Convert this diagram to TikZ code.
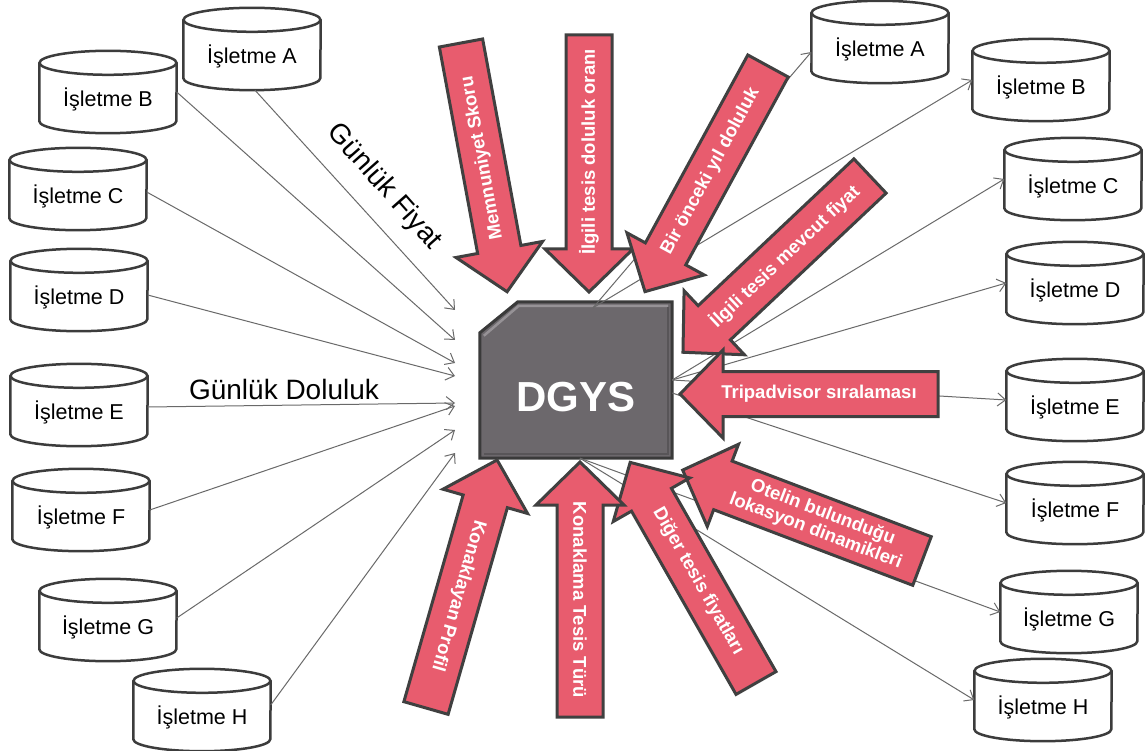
\documentclass[tikz,border=0pt]{standalone}
\usepackage{fontspec}
\setmainfont{Liberation Sans}
\usetikzlibrary{arrows.meta,calc}
\definecolor{arrowred}{RGB}{232,92,110}
\definecolor{edgegray}{RGB}{64,64,64}
\definecolor{boxgray}{RGB}{108,104,108}
\definecolor{boxedge}{RGB}{58,58,58}
\definecolor{bevellight}{RGB}{150,146,150}
\definecolor{beveldark}{RGB}{88,85,88}
\definecolor{linegray}{RGB}{105,105,105}
\definecolor{cyledge}{RGB}{60,60,60}
\tikzset{
  cyl/.style={rectangle, minimum width=137pt, minimum height=82pt, inner sep=0pt},
  cylline/.style={draw=cyledge, line width=2.5pt, fill=white},
  cyltext/.style={font=\fontsize{21.5}{24}\selectfont, inner sep=0pt},
  conn/.style={draw=linegray, line width=1pt, -{Straight Barb[length=8pt,width=13pt,line width=1pt]}},
  barrow/.style={fill=arrowred, draw=edgegray, line width=3pt, line join=miter},
  btext/.style={text=white, font=\fontsize{18.5}{20}\bfseries\selectfont, align=center, inner sep=0pt},
  bigtext/.style={font=\fontsize{28}{30}\selectfont, inner sep=0pt},
}
\newcommand\DrawCyl[4]{%
  \node[cyl] (#1) at (#2,#3) {};
  \draw[cylline] ([yshift=-12pt]#1.north west) -- ([yshift=12pt]#1.south west)
     arc[start angle=180,end angle=360,x radius=68.5pt,y radius=12pt]
     -- ([yshift=-12pt]#1.north east);
  \draw[cylline] ([yshift=-12pt]#1.north) ellipse[x radius=68.5pt, y radius=12pt];
  \node[cyltext] (#1t) at ([yshift=-7pt]#1.center) {#4};
}
% name, tail x, tail y, angle, length, shaft width, text, text position
\newcommand\BlockArrow[8]{%
  \begin{scope}[shift={(#2,#3)}, rotate=#4]
    \draw[barrow] (0pt,{-#6*0.5pt}) -- ({(#5-43)*1pt},{-#6*0.5pt}) -- ({(#5-43)*1pt},-44pt)
      -- ({#5*1pt},0pt) -- ({(#5-43)*1pt},44pt) -- ({(#5-43)*1pt},{#6*0.5pt}) -- (0pt,{#6*0.5pt}) -- cycle;
    \node[btext, rotate=#4+180] (#1) at ({#8*1pt},0pt) {#7};
  \end{scope}}
\begin{document}
\begin{tikzpicture}[x=1pt,y=-1pt]
\useasboundingbox (0,0) rectangle (1146,751);
\fill[white] (0,0) rectangle (1146,751);

% left cylinders
\DrawCyl{lA}{252}{49}{İşletme A}
\DrawCyl{lB}{108}{92}{İşletme B}
\DrawCyl{lC}{78}{189}{İşletme C}
\DrawCyl{lD}{79}{290}{İşletme D}
\DrawCyl{lE}{79}{405}{İşletme E}
\DrawCyl{lF}{81}{510}{İşletme F}
\DrawCyl{lG}{108}{620}{İşletme G}
\DrawCyl{lH}{202}{710}{İşletme H}
% right cylinders
\DrawCyl{rA}{880}{42}{İşletme A}
\DrawCyl{rB}{1041}{80}{İşletme B}
\DrawCyl{rC}{1073}{179}{İşletme C}
\DrawCyl{rD}{1075}{283}{İşletme D}
\DrawCyl{rE}{1075}{400}{İşletme E}
\DrawCyl{rF}{1075}{503}{İşletme F}
\DrawCyl{rG}{1069}{612}{İşletme G}
\DrawCyl{rH}{1043}{700}{İşletme H}

% central box
\node[minimum width=192pt, minimum height=156pt, inner sep=0pt] (dg) at (576,380) {};
\draw[fill=boxgray, draw=boxedge, line width=3pt, line join=miter]
  (dg.south west) -- ([yshift=-31pt]dg.north west) -- ([xshift=38pt]dg.north west)
  -- (dg.north east) -- (dg.south east) -- cycle;
\draw[bevellight, line width=2.5pt]
  ([xshift=4pt,yshift=-34pt]dg.north west) -- ([xshift=39pt,yshift=-4pt]dg.north west)
  -- ([xshift=-4pt,yshift=-4pt]dg.north east);
\draw[beveldark, line width=2.5pt]
  ([xshift=-4pt,yshift=-5pt]dg.north east) -- ([xshift=-4pt,yshift=4pt]dg.south east)
  -- ([xshift=4pt,yshift=4pt]dg.south west);
\node[text=white, font=\fontsize{42}{46}\bfseries\selectfont, inner sep=0pt] (dgt)
  at ([yshift=-17pt]dg.center) {DGYS};

% connector end points
\coordinate (inA) at (455,310);
\coordinate (inB) at (455,340);
\coordinate (inC) at (455,363);
\coordinate (inD) at (455,376);
\coordinate (inE) at (455,403);
\coordinate (inF) at (455,406);
\coordinate (inG) at (455,430);
\coordinate (inH) at (455,453);
\coordinate (oTop) at ([xshift=17pt,yshift=-6pt]dg.north);
\coordinate (oRight2) at ([yshift=-13pt]dg.east);
\coordinate (oBot) at ([xshift=4pt]dg.south);

% left connectors
\draw[conn] ([xshift=3pt]lA.south) -- (inA);
\draw[conn] (lB.east) -- (inB);
\draw[conn] ([yshift=-3pt]lC.east) -- (inC);
\draw[conn] ([yshift=-5pt]lD.east) -- (inD);
\draw[conn] ([yshift=-2pt]lE.east) -- (inE);
\draw[conn] (lF.east) -- (inF);
\draw[conn] ([yshift=2pt]lG.east) -- (inG);
\draw[conn] ([yshift=5pt]lH.east) -- (inH);
% right connectors
\draw[conn] (oTop) -- ([yshift=-10pt]rA.west);
\draw[conn] (oTop) -- (rB.west);
\draw[conn] (dg.east) -- (rC.west);
\draw[conn] (dg.east) -- (rD.west);
\draw[conn] (dg.east) -- (rE.west);
\draw[conn] (oRight2) -- (rF.west);
\draw[conn] (oBot) -- (rG.west);
\draw[conn] (oBot) -- (rH.west);

% block arrows
\BlockArrow{a1}{461}{43}{-79.5}{253}{44}{Memnuniyet Skoru}{117}
\BlockArrow{a2}{589}{35}{-90}{257}{46}{İlgili tesis doluluk oranı}{117}
\BlockArrow{a3}{768}{66}{-118.6}{257}{46}{Bir önceki yıl doluluk}{120}
\BlockArrow{a4}{870}{176}{-136.7}{257}{47}{İlgili tesis mevcut fiyat}{117}
\BlockArrow{a5}{938}{394}{180}{258}{45}{Tripadvisor sıralaması}{119}
\BlockArrow{a6}{922}{561}{159.2}{256}{52}{Otelin bulunduğu\\lokasyon dinamikleri}{110}
\BlockArrow{a7}{756}{683}{119.7}{254}{46}{Diğer tesis fiyatları}{117}
\BlockArrow{a8}{580}{717}{90}{255}{46}{Konaklama Tesis Türü}{117}
\BlockArrow{a9}{426}{708}{74.0}{258}{46}{Konaklayan Profil}{117}

% free labels
\node[bigtext, rotate=-48.5] (gf) at (384,187) {Günlük Fiyat};
\node[bigtext] (gd) at (284,389) {Günlük Doluluk};
\end{tikzpicture}
\end{document}
